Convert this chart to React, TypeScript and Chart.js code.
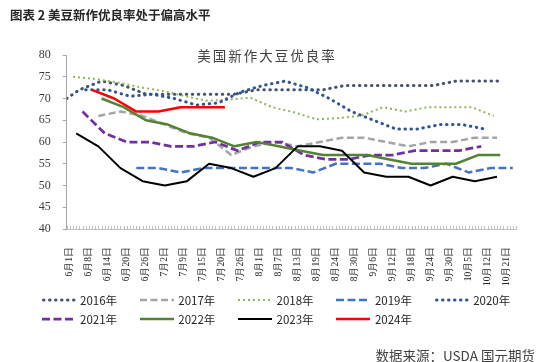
import React, { useEffect, useRef } from "react";
import { Chart, registerables } from "chart.js";

Chart.register(...registerables);

// ---- axis labels (evenly spaced on the date axis, as in the source) ----
const X_LABELS = [
  "6月1日", "6月8日", "6月14日", "6月20日", "6月26日", "7月2日", "7月9日", "7月15日",
  "7月20日", "7月26日", "8月1日", "8月7日", "8月13日", "8月19日", "8月24日", "8月30日",
  "9月6日", "9月12日", "9月18日", "9月24日", "9月30日", "10月5日", "10月12日", "10月21日",
];
// x axis = days after June 1 (June 1 .. October 21)
const AXIS_MIN_DAY = 0;
const AXIS_MAX_DAY = 142;
const FIRST_LABEL_DAY = 1;
const LAST_LABEL_DAY = 139;

const Y_MIN = 40;
const Y_MAX = 80;
const Y_STEP = 5;

// ---- series: weekly good/excellent ratings (%) ----
const YEARS = ["2016年", "2017年", "2018年", "2019年", "2020年", "2021年", "2022年", "2023年", "2024年"];
// day (after June 1) of each year's first weekly report
const START_DAYS = [4, 10, 2, 22, 6, 5, 11, 3, 8];
// 2016 also has an early reading on June 1
const LEAD_2016_DAY = 0;
const LEAD_2016_VALUE = 70;

const v2016 = [72, 74, 73, 71, 71, 71, 71, 71, 72, 72, 72, 72, 73, 73, 73, 73, 73, 74, 74, 74];
const v2017 = [66, 67, 66, 64, 62, 61, 57, 59, 60, 59, 60, 61, 61, 60, 59, 60, 60, 61, 61];
const v2018 = [75, 74.5, 73.7, 72.6, 71.8, 70.6, 69.5, 69.7, 70.2, 68, 66.8, 65.2, 65.5, 66, 68, 67, 68, 68, 68, 66];
const v2019 = [54, 54, 53, 54, 54, 54, 54, 54, 53, 55, 55, 55, 54, 54, 55, 53, 54, 54];
const v2020 = [72, 72, 70.5, 71, 70, 68.5, 69, 71.5, 73, 74, 72.5, 70, 67, 65, 63, 63, 64, 64, 63];
const v2021 = [67, 62, 60, 60, 59, 59, 60, 58, 60, 60, 57, 56, 56, 57, 57, 58, 58, 58, 59];
const v2022 = [70, 68, 65, 64, 62, 61, 59, 60, 59, 58, 57, 57, 57, 56, 55, 55, 55, 57, 57];
const v2023 = [62, 59, 54, 51, 50, 51, 55, 54, 52, 54, 59, 59, 58, 53, 52, 52, 50, 52, 51, 52];
const v2024 = [72, 70, 67, 67, 68, 68, 68];
const VALUES = [v2016, v2017, v2018, v2019, v2020, v2021, v2022, v2023, v2024];

// ---- styles ----
const COLORS = ["#44546A", "#A5A5A5", "#92B55A", "#4472C4", "#2F5597", "#7030A0", "#548235", "#000000", "#FF0000"];
const WIDTHS = [3, 2.5, 2, 2.5, 3, 2.75, 2.5, 2, 2.5];
const DASHES: number[][] = [[0.5, 5.5], [7, 3.5], [2, 3], [8, 3.5], [0.5, 5.5], [8, 3.5], [], [], []];
const CAPS = ["round", "butt", "butt", "butt", "round", "butt", "butt", "butt", "butt"];

const CJK = "'Noto Sans CJK SC', 'Noto Sans', sans-serif";
const SERIF = "'Liberation Serif', 'DejaVu Serif', serif";

function buildPoints(i: number) {
  const pts: { x: number; y: number }[] = [];
  if (i === 0) pts.push({ x: LEAD_2016_DAY, y: LEAD_2016_VALUE });
  VALUES[i].forEach((v, k) => pts.push({ x: START_DAYS[i] + 7 * k, y: v }));
  return pts;
}

const dayTicks = {
  id: "dayTicks",
  beforeDatasetsDraw(chart: any) {
    const xs = chart.scales.x;
    const { ctx, chartArea } = chart;
    ctx.save();
    ctx.strokeStyle = "#BFBFBF";
    ctx.lineWidth = 1;
    ctx.beginPath();
    for (let d = AXIS_MIN_DAY; d <= AXIS_MAX_DAY; d++) {
      const px = Math.round(xs.getPixelForValue(d)) + 0.5;
      ctx.moveTo(px, chartArea.bottom - 3);
      ctx.lineTo(px, chartArea.bottom);
    }
    ctx.stroke();
    ctx.restore();
  },
};

function ChartCanvas() {
  const ref = useRef<HTMLCanvasElement | null>(null);
  useEffect(() => {
    if (!ref.current) return;
    const step = (LAST_LABEL_DAY - FIRST_LABEL_DAY) / (X_LABELS.length - 1);
    const chart = new Chart(ref.current, {
      type: "line",
      data: {
        datasets: YEARS.map((label, i) => ({
          label,
          data: buildPoints(i),
          borderColor: COLORS[i],
          backgroundColor: COLORS[i],
          borderWidth: WIDTHS[i],
          borderDash: DASHES[i],
          borderCapStyle: CAPS[i] as any,
          borderJoinStyle: "round" as any,
          pointRadius: 0,
          pointHoverRadius: 0,
          tension: 0,
          fill: false,
          order: YEARS.length - i,
        })),
      },
      options: {
        animation: false,
        responsive: false,
        maintainAspectRatio: false,
        events: [],
        layout: { padding: { top: 55, left: 0, right: 29, bottom: 75 } },
        plugins: {
          legend: { display: false },
          tooltip: { enabled: false },
          title: { display: false },
        },
        scales: {
          x: {
            type: "linear",
            min: AXIS_MIN_DAY,
            max: AXIS_MAX_DAY,
            afterBuildTicks: (scale: any) => {
              scale.ticks = X_LABELS.map((_, i) => ({ value: FIRST_LABEL_DAY + i * step }));
            },
            afterFit: (scale: any) => {
              scale.height = 58;
            },
            ticks: {
              autoSkip: false,
              maxRotation: 90,
              minRotation: 90,
              padding: 10,
              color: "#262626",
              font: { family: SERIF, size: 9.5 },
              callback: (_v: any, index: number) => X_LABELS[index],
            },
            grid: { display: false },
            border: { display: true, color: "#BFBFBF", width: 1 },
          },
          y: {
            min: Y_MIN,
            max: Y_MAX,
            afterFit: (scale: any) => {
              scale.width = 66.7;
            },
            ticks: {
              stepSize: Y_STEP,
              padding: 12,
              color: "#404040",
              font: { family: SERIF, size: 12 },
            },
            grid: {
              display: true,
              drawOnChartArea: false,
              drawTicks: true,
              tickLength: 4,
              color: "#A6A6A6",
            },
            border: { display: true, color: "#A6A6A6", width: 1 },
          },
        },
      },
      plugins: [dayTicks],
    } as any);
    return () => chart.destroy();
  }, []);
  return (
    <canvas
      ref={ref}
      width={545}
      height={362}
      style={{ position: "absolute", left: 0, top: 0, width: 545, height: 362 }}
    />
  );
}

function LegendSample({ i }: { i: number }) {
  const dash = DASHES[i].length ? DASHES[i].join(" ") : undefined;
  return (
    <svg width={34} height={6} style={{ display: "block", flex: "none" }}>
      <line
        x1={CAPS[i] === "round" ? 1.5 : 0}
        y1={3}
        x2={CAPS[i] === "round" ? 32.5 : 34}
        y2={3}
        stroke={COLORS[i]}
        strokeWidth={WIDTHS[i]}
        strokeDasharray={dash}
        strokeLinecap={CAPS[i] as any}
      />
    </svg>
  );
}

export default function App() {
  useEffect(() => {
    document.body.style.margin = "0";
  }, []);
  const PER_ROW = 5;
  return (
    <div style={{ position: "relative", width: 545, height: 362, background: "#fff", overflow: "hidden" }}>
      <style>{`body{margin:0}`}</style>
      <ChartCanvas />
      <div
        style={{
          position: "absolute",
          left: 10,
          top: 8,
          fontFamily: CJK,
          fontSize: 12.5,
          fontWeight: 700,
          lineHeight: "14px",
          color: "#262626",
          whiteSpace: "nowrap",
        }}
      >
        图表 2 美豆新作优良率处于偏高水平
      </div>
      <div
        style={{
          position: "absolute",
          left: 0,
          width: 534,
          top: 46,
          textAlign: "center",
          fontFamily: CJK,
          fontSize: 13.5,
          letterSpacing: 2,
          lineHeight: "18px",
          color: "#404040",
          whiteSpace: "nowrap",
        }}
      >
        美国新作大豆优良率
      </div>
      {YEARS.map((y, i) => {
        const col = i % PER_ROW;
        const row = Math.floor(i / PER_ROW);
        return (
          <div
            key={y}
            style={{
              position: "absolute",
              left: 41.5 + col * 98.3,
              top: 293 + row * 19,
              height: 14,
              display: "flex",
              alignItems: "center",
              fontFamily: CJK,
              fontSize: 11.5,
              color: "#262626",
              whiteSpace: "nowrap",
            }}
          >
            <LegendSample i={i} />
            <span style={{ marginLeft: 4.5, lineHeight: "14px" }}>{y}</span>
          </div>
        );
      })}
      <div
        style={{
          position: "absolute",
          right: 10,
          top: 347,
          fontFamily: CJK,
          fontSize: 13.5,
          lineHeight: "16px",
          color: "#404040",
          whiteSpace: "nowrap",
        }}
      >
        数据来源：USDA 国元期货
      </div>
    </div>
  );
}
